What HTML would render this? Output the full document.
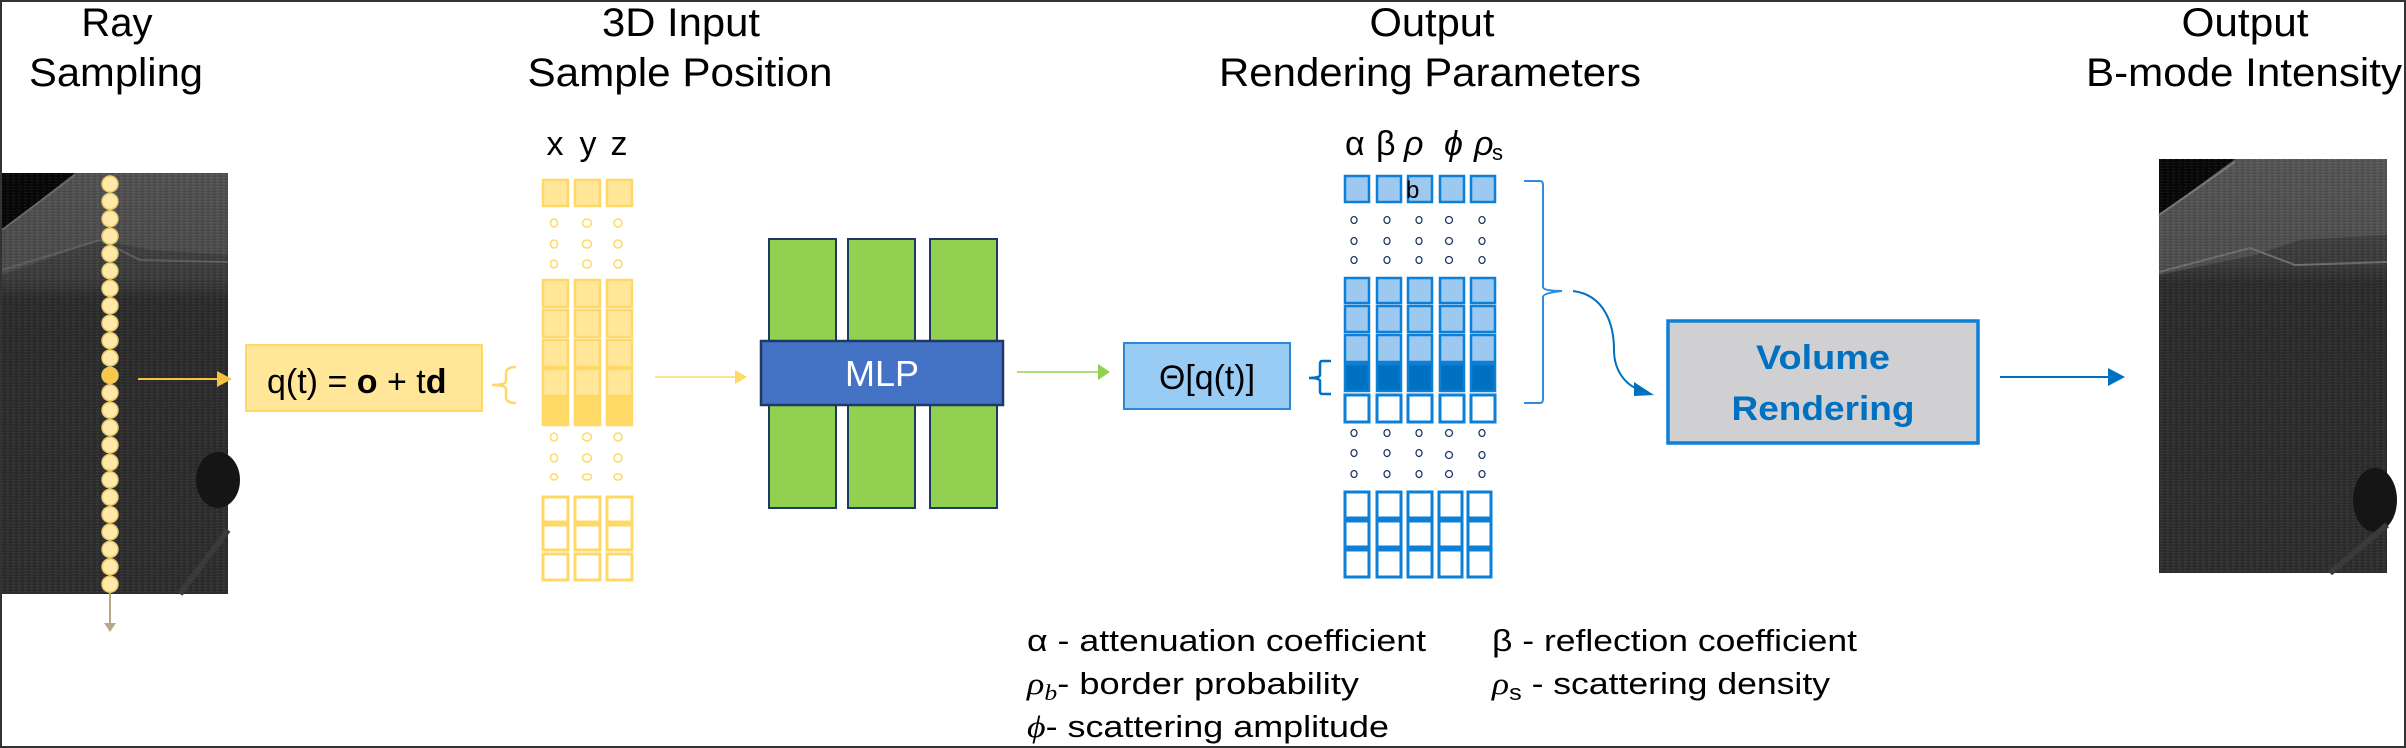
<!DOCTYPE html>
<html><head><meta charset="utf-8"><style>
html,body{margin:0;padding:0;background:#fff;}
svg{display:block;}
text{font-family:"Liberation Sans",sans-serif;}
</style></head><body>
<svg width="2406" height="748" viewBox="0 0 2406 748" xmlns="http://www.w3.org/2000/svg">
<defs>
<linearGradient id="us" x1="0" y1="0" x2="0" y2="1">
<stop offset="0" stop-color="#4a4a4a"/><stop offset="0.25" stop-color="#3c3c3c"/><stop offset="0.3" stop-color="#2c2c2c"/><stop offset="1" stop-color="#2e2e2e"/>
</linearGradient>
<pattern id="noise" width="6" height="3" patternUnits="userSpaceOnUse">
<rect x="0" y="0" width="3" height="1" fill="#ffffff" opacity="0.06"/><rect x="3" y="2" width="3" height="1" fill="#000" opacity="0.12"/>
</pattern>
</defs>
<rect x="1" y="1" width="2404" height="746" fill="#fff" stroke="#333" stroke-width="2"/>

<g font-size="40" fill="#000" text-anchor="middle">
<text x="117" y="36">Ray</text>
<text x="116" y="86" textLength="174" lengthAdjust="spacingAndGlyphs">Sampling</text>
<text x="681" y="36" textLength="158" lengthAdjust="spacingAndGlyphs">3D Input</text>
<text x="680" y="86" textLength="305" lengthAdjust="spacingAndGlyphs">Sample Position</text>
<text x="1432" y="36" textLength="125" lengthAdjust="spacingAndGlyphs">Output</text>
<text x="1430" y="86" textLength="422" lengthAdjust="spacingAndGlyphs">Rendering Parameters</text>
<text x="2245" y="36" textLength="127" lengthAdjust="spacingAndGlyphs">Output</text>
<text x="2244" y="86" textLength="316" lengthAdjust="spacingAndGlyphs">B-mode Intensity</text>
</g>

<!-- left ultrasound -->
<g>
<rect x="2" y="173" width="226" height="421" fill="url(#us)"/>
<polygon points="2,173 228,173 228,255 150,250 100,240 2,275" fill="#5a5a5a" opacity="0.5"/>
<polygon points="2,173 75,173 2,230" fill="#080808"/>
<polyline points="2,230 75,175" stroke="#6a6a6a" stroke-width="2" fill="none"/>
<polyline points="2,270 100,240 140,260 228,262" stroke="#5e5e5e" stroke-width="2" fill="none"/>
<rect x="2" y="173" width="226" height="421" fill="url(#noise)"/>
<ellipse cx="218" cy="480" rx="22" ry="28" fill="#151515"/>
<path d="M180,594 L228,530" stroke="#3a3a3a" stroke-width="6"/>
<line x1="110" y1="584" x2="110" y2="628" stroke="#b5a98a" stroke-width="2"/>
<path d="M104,623 L116,623 L110,632z" fill="#b5a98a"/>
</g>
<g fill="#FFE9A8" stroke="#E8C869" stroke-width="1.5">
<circle cx="110" cy="184.0" r="8"/><circle cx="110" cy="201.4" r="8"/><circle cx="110" cy="218.8" r="8"/><circle cx="110" cy="236.2" r="8"/><circle cx="110" cy="253.6" r="8"/><circle cx="110" cy="271.0" r="8"/><circle cx="110" cy="288.4" r="8"/><circle cx="110" cy="305.8" r="8"/><circle cx="110" cy="323.2" r="8"/><circle cx="110" cy="340.6" r="8"/><circle cx="110" cy="358.0" r="8"/><circle cx="110" cy="375.4" r="8" fill="#F8C84A"/><circle cx="110" cy="392.8" r="8"/><circle cx="110" cy="410.2" r="8"/><circle cx="110" cy="427.6" r="8"/><circle cx="110" cy="445.0" r="8"/><circle cx="110" cy="462.4" r="8"/><circle cx="110" cy="479.8" r="8"/><circle cx="110" cy="497.2" r="8"/><circle cx="110" cy="514.6" r="8"/><circle cx="110" cy="532.0" r="8"/><circle cx="110" cy="549.4" r="8"/><circle cx="110" cy="566.8" r="8"/><circle cx="110" cy="584.2" r="8"/>
</g>
<line x1="138" y1="379" x2="222" y2="379" stroke="#F5C242" stroke-width="2"/>
<path d="M217,371 L232,379 L217,387z" fill="#F5C242"/>

<rect x="246" y="345" width="236" height="66" fill="#FFE699" stroke="#FFD966" stroke-width="2"/>
<text x="267" y="393" font-size="34" fill="#000">q(t) = <tspan font-weight="bold">o</tspan> + t<tspan font-weight="bold">d</tspan></text>
<path d="M516,367 Q506,367 506,373 L506,381 Q506,385 492,385 Q506,385 506,389 L506,397 Q506,403 516,403" fill="none" stroke="#FFD966" stroke-width="2.5"/>

<g font-size="34" fill="#000" text-anchor="middle"><text x="555" y="155">x</text><text x="588" y="155">y</text><text x="619" y="155">z</text></g>
<g stroke="#FFD966" stroke-width="2.5" fill="#FFE699">
<rect x="543" y="180" width="25" height="26"/><rect x="575" y="180" width="25" height="26"/><rect x="607" y="180" width="25" height="26"/>
<rect x="543" y="280" width="25" height="27"/><rect x="575" y="280" width="25" height="27"/><rect x="607" y="280" width="25" height="27"/>
<rect x="543" y="310" width="25" height="27"/><rect x="575" y="310" width="25" height="27"/><rect x="607" y="310" width="25" height="27"/>
<rect x="543" y="340" width="25" height="27"/><rect x="575" y="340" width="25" height="27"/><rect x="607" y="340" width="25" height="27"/>
<rect x="543" y="369" width="25" height="27"/><rect x="575" y="369" width="25" height="27"/><rect x="607" y="369" width="25" height="27"/>
<rect x="543" y="398" width="25" height="27" fill="#FFD966"/><rect x="575" y="398" width="25" height="27" fill="#FFD966"/><rect x="607" y="398" width="25" height="27" fill="#FFD966"/>
<g fill="#fff" stroke-width="3">
<rect x="543" y="497" width="25" height="25"/><rect x="575" y="497" width="25" height="25"/><rect x="607" y="497" width="25" height="25"/>
<rect x="543" y="525" width="25" height="25"/><rect x="575" y="525" width="25" height="25"/><rect x="607" y="525" width="25" height="25"/>
<rect x="543" y="554" width="25" height="26"/><rect x="575" y="554" width="25" height="26"/><rect x="607" y="554" width="25" height="26"/>
</g>
<g fill="none" stroke-width="1.5">
<ellipse cx="554" cy="223" rx="3.5" ry="4"/><ellipse cx="587" cy="223" rx="4.5" ry="4"/><ellipse cx="618" cy="223" rx="4" ry="4"/>
<ellipse cx="554" cy="244" rx="3.5" ry="4"/><ellipse cx="587" cy="244" rx="4.5" ry="4"/><ellipse cx="618" cy="244" rx="4" ry="4"/>
<ellipse cx="554" cy="264" rx="3.5" ry="4"/><ellipse cx="587" cy="264" rx="4.5" ry="4"/><ellipse cx="618" cy="264" rx="4" ry="4"/>
<ellipse cx="554" cy="437" rx="3.5" ry="4"/><ellipse cx="587" cy="437" rx="4.5" ry="4"/><ellipse cx="618" cy="437" rx="4" ry="4"/>
<ellipse cx="554" cy="458" rx="3.5" ry="4"/><ellipse cx="587" cy="458" rx="4.5" ry="4"/><ellipse cx="618" cy="458" rx="4" ry="4"/>
<ellipse cx="554" cy="477" rx="3.5" ry="3"/><ellipse cx="587" cy="477" rx="4.5" ry="3"/><ellipse cx="618" cy="477" rx="4" ry="3"/>
</g>
</g>

<line x1="655" y1="377" x2="736" y2="377" stroke="#FFD966" stroke-width="1.5"/>
<path d="M735,370 L747,377 L735,384z" fill="#FFD966"/>

<g fill="#92D050" stroke="#1F3864" stroke-width="2">
<rect x="769" y="239" width="67" height="269"/><rect x="848" y="239" width="67" height="269"/><rect x="930" y="239" width="67" height="269"/>
</g>
<rect x="761" y="341" width="242" height="64" fill="#4472C4" stroke="#1F3864" stroke-width="2.5"/>
<text x="882" y="386" font-size="36" fill="#fff" text-anchor="middle">MLP</text>

<line x1="1017" y1="372" x2="1100" y2="372" stroke="#92D050" stroke-width="1.5"/>
<path d="M1098,364 L1110,372 L1098,380z" fill="#92D050"/>

<rect x="1124" y="343" width="166" height="66" fill="#99CCF5" stroke="#2E86D6" stroke-width="2"/>
<text x="1207" y="389" font-size="34" fill="#000" text-anchor="middle" textLength="96" lengthAdjust="spacingAndGlyphs">Θ[q(t)]</text>
<path d="M1331,361 L1322,361 Q1320,361 1320,364 L1320,375 Q1320,378 1309,378 Q1320,378 1320,381 L1320,391 Q1320,394 1322,394 L1331,394" fill="none" stroke="#0070C0" stroke-width="2.5"/>

<g font-size="34" fill="#000">
<text x="1345" y="155">α</text><text x="1376" y="155">β</text><text x="1404" y="155" font-style="italic" font-family="Liberation Serif">ρ</text>
<text x="1444" y="155" font-style="italic" font-family="Liberation Serif">ϕ</text><text x="1474" y="155" font-style="italic" font-family="Liberation Serif">ρ</text><text x="1492" y="160" font-size="22">s</text>
</g>
<g stroke="#0C7FD6" stroke-width="2.5" fill="#9DC8F0">
<rect x="1345" y="176" width="24" height="26"/><rect x="1377" y="176" width="24" height="26"/><rect x="1408" y="176" width="24" height="26"/><rect x="1440" y="176" width="24" height="26"/><rect x="1471" y="176" width="24" height="26"/>
<rect x="1345" y="278" width="24" height="25"/><rect x="1377" y="278" width="24" height="25"/><rect x="1408" y="278" width="24" height="25"/><rect x="1440" y="278" width="24" height="25"/><rect x="1471" y="278" width="24" height="25"/>
<rect x="1345" y="306" width="24" height="26"/><rect x="1377" y="306" width="24" height="26"/><rect x="1408" y="306" width="24" height="26"/><rect x="1440" y="306" width="24" height="26"/><rect x="1471" y="306" width="24" height="26"/>
<rect x="1345" y="335" width="24" height="27"/><rect x="1377" y="335" width="24" height="27"/><rect x="1408" y="335" width="24" height="27"/><rect x="1440" y="335" width="24" height="27"/><rect x="1471" y="335" width="24" height="27"/>
<g fill="#0070C0"><rect x="1345" y="364" width="24" height="27"/><rect x="1377" y="364" width="24" height="27"/><rect x="1408" y="364" width="24" height="27"/><rect x="1440" y="364" width="24" height="27"/><rect x="1471" y="364" width="24" height="27"/></g>
<g fill="#fff" stroke-width="3">
<rect x="1345" y="395" width="24" height="27"/><rect x="1377" y="395" width="24" height="27"/><rect x="1408" y="395" width="24" height="27"/><rect x="1440" y="395" width="24" height="27"/><rect x="1471" y="395" width="24" height="27"/>
<rect x="1345" y="492" width="24" height="26"/><rect x="1377" y="492" width="24" height="26"/><rect x="1408" y="492" width="24" height="26"/><rect x="1439" y="492" width="23" height="26"/><rect x="1468" y="492" width="23" height="26"/>
<rect x="1345" y="521" width="24" height="26"/><rect x="1377" y="521" width="24" height="26"/><rect x="1408" y="521" width="24" height="26"/><rect x="1439" y="521" width="23" height="26"/><rect x="1468" y="521" width="23" height="26"/>
<rect x="1345" y="550" width="24" height="27"/><rect x="1377" y="550" width="24" height="27"/><rect x="1408" y="550" width="24" height="27"/><rect x="1439" y="550" width="23" height="27"/><rect x="1468" y="550" width="23" height="27"/>
</g>
</g>
<text x="1406" y="198" font-size="24" fill="#000">b</text>
<g fill="none" stroke="#1F3864" stroke-width="1.3">
<ellipse cx="1354" cy="220" rx="3" ry="3.5"/><ellipse cx="1387" cy="220" rx="3" ry="3.5"/><ellipse cx="1419" cy="220" rx="3" ry="3.5"/><ellipse cx="1449" cy="220" rx="3.5" ry="3.5"/><ellipse cx="1482" cy="220" rx="3" ry="3.5"/>
<ellipse cx="1354" cy="241" rx="3" ry="3.5"/><ellipse cx="1387" cy="241" rx="3" ry="3.5"/><ellipse cx="1419" cy="241" rx="3" ry="3.5"/><ellipse cx="1449" cy="241" rx="3.5" ry="3.5"/><ellipse cx="1482" cy="241" rx="3" ry="3.5"/>
<ellipse cx="1354" cy="260" rx="3" ry="3.5"/><ellipse cx="1387" cy="260" rx="3" ry="3.5"/><ellipse cx="1419" cy="260" rx="3" ry="3.5"/><ellipse cx="1449" cy="260" rx="3.5" ry="3.5"/><ellipse cx="1482" cy="260" rx="3" ry="3.5"/>
<ellipse cx="1354" cy="433" rx="3" ry="3.5"/><ellipse cx="1387" cy="433" rx="3" ry="3.5"/><ellipse cx="1419" cy="433" rx="3" ry="3.5"/><ellipse cx="1449" cy="433" rx="3.5" ry="3.5"/><ellipse cx="1482" cy="433" rx="3" ry="3.5"/>
<ellipse cx="1354" cy="453" rx="3" ry="3.5"/><ellipse cx="1387" cy="453" rx="3" ry="3.5"/><ellipse cx="1419" cy="453" rx="3" ry="3.5"/><ellipse cx="1449" cy="455" rx="3.5" ry="3.5"/><ellipse cx="1482" cy="455" rx="3" ry="3.5"/>
<ellipse cx="1354" cy="474" rx="3" ry="3.5"/><ellipse cx="1387" cy="474" rx="3" ry="3.5"/><ellipse cx="1419" cy="474" rx="3" ry="3.5"/><ellipse cx="1449" cy="474" rx="3.5" ry="3.5"/><ellipse cx="1482" cy="474" rx="3" ry="3.5"/>
</g>

<path d="M1524,181 L1540,181 Q1543,181 1543,185 L1543,287 Q1543,291 1562,291 Q1543,293 1543,297 L1543,399 Q1543,403 1540,403 L1524,403" fill="none" stroke="#2E8BE0" stroke-width="2"/>
<path d="M1573,291 C1605,295 1614,325 1614,350 C1614,370 1625,385 1640,390" fill="none" stroke="#0070C0" stroke-width="2"/>
<path d="M1634,382 L1654,395 L1634,396z" fill="#0070C0"/>

<rect x="1668" y="321" width="310" height="122" fill="#D0D0D3" stroke="#0C7FD6" stroke-width="3.5"/>
<g font-size="34" font-weight="bold" fill="#0070C0" text-anchor="middle">
<text x="1823" y="369" textLength="134" lengthAdjust="spacingAndGlyphs">Volume</text>
<text x="1823" y="420" textLength="183" lengthAdjust="spacingAndGlyphs">Rendering</text>
</g>
<line x1="2000" y1="377" x2="2112" y2="377" stroke="#0070C0" stroke-width="2"/>
<path d="M2108,368 L2125,377 L2108,386z" fill="#0070C0"/>

<!-- right ultrasound -->
<g>
<rect x="2159" y="159" width="228" height="414" fill="url(#us)"/>
<polygon points="2159,159 2387,159 2387,235 2300,240 2255,255 2159,275" fill="#5f5f5f" opacity="0.55"/>
<polygon points="2159,159 2235,159 2159,215" fill="#080808"/>
<polyline points="2159,215 2235,162" stroke="#777" stroke-width="2" fill="none"/>
<polyline points="2159,272 2250,248 2295,265 2387,262" stroke="#6e6e6e" stroke-width="2" fill="none"/>
<rect x="2159" y="159" width="228" height="414" fill="url(#noise)"/>
<ellipse cx="2375" cy="500" rx="22" ry="32" fill="#151515"/>
<path d="M2330,573 L2387,525" stroke="#3a3a3a" stroke-width="6"/>
</g>

<g font-size="31" fill="#000">
<text x="1027" y="651" textLength="399" lengthAdjust="spacingAndGlyphs">α - attenuation  coefficient</text>
<text x="1027" y="694" textLength="332" lengthAdjust="spacingAndGlyphs"><tspan font-family="Liberation Serif" font-style="italic">ρ</tspan><tspan font-family="Liberation Serif" font-style="italic" font-size="22" dy="6">b</tspan><tspan dy="-6">- border probability</tspan></text>
<text x="1027" y="737" textLength="362" lengthAdjust="spacingAndGlyphs"><tspan font-family="Liberation Serif" font-style="italic">ϕ</tspan>- scattering  amplitude</text>
<text x="1492" y="651" textLength="365" lengthAdjust="spacingAndGlyphs">β - reflection coefficient</text>
<text x="1492" y="694" textLength="338" lengthAdjust="spacingAndGlyphs"><tspan font-family="Liberation Serif" font-style="italic">ρ</tspan><tspan font-size="22" dy="6">s</tspan><tspan dy="-6"> - scattering  density</tspan></text>
</g>
</svg>
</body></html>
